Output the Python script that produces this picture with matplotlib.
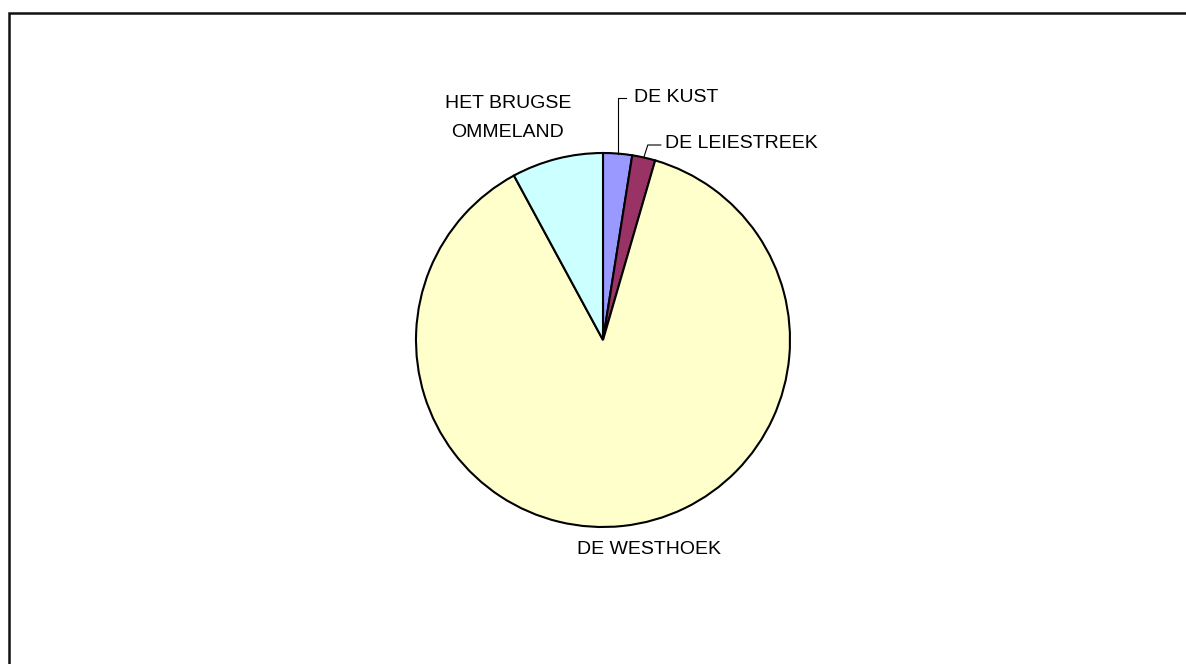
import numpy as np
import matplotlib
matplotlib.use("Agg")
import matplotlib.pyplot as plt
from matplotlib.patches import Rectangle

# regio's en aandeel (%)
regios = ["DE KUST", "DE LEIESTREEK", "DE WESTHOEK", "HET BRUGSE\nOMMELAND"]
aandeel = [2.5, 2.0, 87.6, 7.9]
kleuren = ["#9999FF", "#993366", "#FFFFCC", "#CCFFFF"]

plt.rcParams['font.family'] = ['Liberation Sans', 'DejaVu Sans']

W, H = 1186, 664
fig = plt.figure(figsize=(W / 100, H / 100), dpi=100)
ax = fig.add_axes([0, 0, 1, 1])

cx, cy, r = 603, H - 340, 187
wedges, _ = ax.pie(aandeel, colors=kleuren, startangle=90, counterclock=False,
                   center=(cx, cy), radius=r, frame=True,
                   wedgeprops=dict(edgecolor='black', linewidth=1.5))
ax.set_xlim(0, W)
ax.set_ylim(0, H)
ax.set_aspect('equal')
ax.axis('off')

# kader rond de grafiek (loopt rechts en onder buiten beeld)
ax.add_patch(Rectangle((8.5, -20), W + 20, H - 13 + 20, fill=False, lw=1.8, ec='#111111'))

def midpunt(w):
    a = np.deg2rad((w.theta1 + w.theta2) / 2)
    return cx + r * np.cos(a), cy + r * np.sin(a)

fs = 14
# DE KUST met verbindingslijn
x0, y0 = midpunt(wedges[0])
ax.plot([x0, x0, x0 + 8], [y0, H - 98, H - 98], color='black', lw=0.8)
ax.text(x0 + 16, H - 98, regios[0], fontsize=fs, va='center', ha='left')
# DE LEIESTREEK met verbindingslijn
x1, y1 = midpunt(wedges[1])
ax.plot([x1, x1 + 4, x1 + 17], [y1, H - 145, H - 145], color='black', lw=0.8)
ax.text(x1 + 21, H - 144, regios[1], fontsize=fs, va='center', ha='left')
# DE WESTHOEK
ax.text(649, H - 549, regios[2], fontsize=fs, va='center', ha='center')
# HET BRUGSE OMMELAND
ax.text(508, H - 118, regios[3], fontsize=fs, va='center', ha='center', linespacing=1.95)

fig.savefig("out.png", dpi=100, facecolor='white')
